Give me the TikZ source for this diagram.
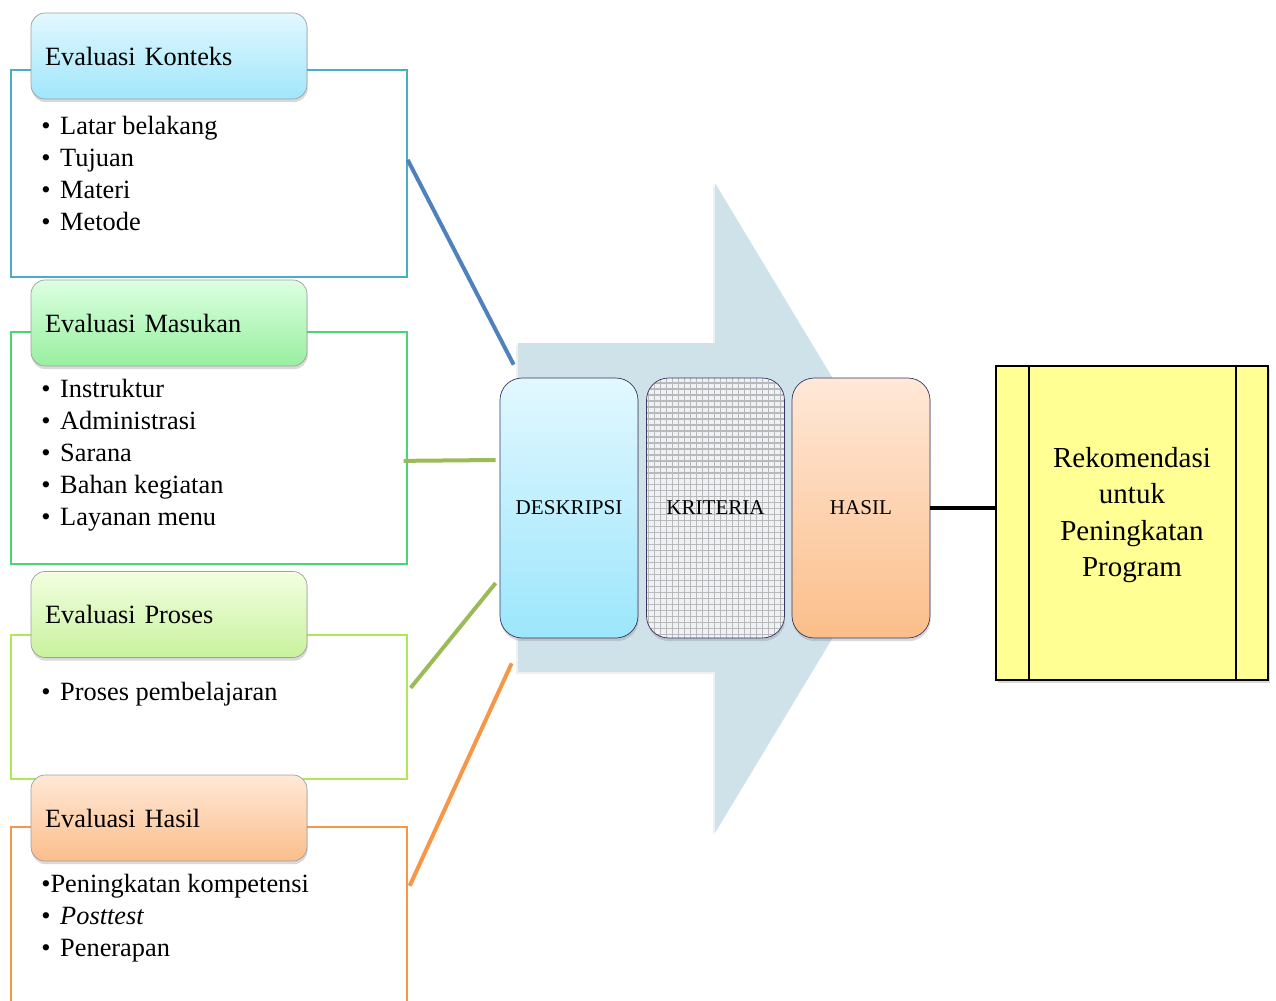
\documentclass[tikz,border=0pt]{standalone}
\usepackage{fontspec}
\setmainfont{Liberation Serif}
\usetikzlibrary{positioning, calc, shadows}
\definecolor{konteks_line}{HTML}{4BACC6}
\definecolor{masukan_line}{HTML}{4CD374}
\definecolor{proses_line}{HTML}{AEE85A}
\definecolor{hasil_line}{HTML}{F79646}
\definecolor{link_blue}{HTML}{4F81BD}
\definecolor{link_green}{HTML}{9BBB59}
\definecolor{arrow_fill}{HTML}{D0E2E9}
\definecolor{reko_fill}{HTML}{FFFF94}
\definecolor{konteks_top}{HTML}{E2F8FF}
\definecolor{konteks_bot}{HTML}{A0E6FA}
\definecolor{masukan_top}{HTML}{DCFFE0}
\definecolor{masukan_bot}{HTML}{98EFA0}
\definecolor{proses_top}{HTML}{F2FFE0}
\definecolor{proses_bot}{HTML}{C8F29E}
\definecolor{hasil_top}{HTML}{FFE8D8}
\definecolor{hasil_bot}{HTML}{FBBE8A}
\definecolor{desk_bot}{HTML}{9CE6FC}
\definecolor{krit_fill}{HTML}{EEF1F6}
\tikzset{
  evalhead/.style={rectangle,rounded corners=0.28cm,draw=gray!75,thin,minimum width=5.52cm,minimum height=1.72cm,text width=4.96cm,inner xsep=0.28cm,align=left,font=\fontsize{15}{18}\selectfont,drop shadow={opacity=0.3,shadow xshift=0.4pt,shadow yshift=-1.8pt}},
  evalframe/.style={rectangle,line width=1pt,anchor=north west,minimum width=7.92cm,inner sep=0pt},
  itemlist/.style={anchor=north west,inner sep=0pt,align=left,font=\fontsize{15}{18.2}\selectfont},
  stage/.style={rectangle,rounded corners=0.44cm,draw=gray!70!blue!60!black,thin,minimum width=2.76cm,minimum height=5.2cm,font=\fontsize{12}{14}\selectfont,drop shadow={opacity=0.3,shadow xshift=0.4pt,shadow yshift=-1.8pt}},
  gridbox/.style={path picture={\draw[gray!55,line width=0.6pt] (path picture bounding box.south west) grid[step=0.12cm] (path picture bounding box.north east);}},
  recbox/.style={rectangle,draw=black,line width=1pt,fill=reko_fill,minimum width=5.44cm,minimum height=6.28cm,align=center,font=\fontsize{16.5}{20.8}\selectfont,drop shadow={opacity=0.3,shadow xshift=1pt,shadow yshift=-1.5pt}},
  link/.style={line width=0.08cm},
}
\newcommand{\itm}{\textbullet\hspace{5.5pt}}
\begin{document}
\begin{tikzpicture}[x=0.02cm,y=-0.02cm]
	\useasboundingbox (0,0) rectangle (1276,1001);
	\fill[arrow_fill,drop shadow={opacity=0.12,shadow xshift=-1pt,shadow yshift=-1pt}] (518,343) -- (715,343) -- (715,183) -- (911,508) -- (715,833) -- (715,672) -- (518,672) -- cycle;
	\node[evalframe,draw=konteks_line,minimum height=4.14cm] (KONTEKSF) at (10,69) {};
	\node[evalframe,draw=masukan_line,minimum height=4.64cm] (MASUKANF) at (10,331) {};
	\node[evalframe,draw=proses_line,minimum height=2.88cm] (PROSESF) at (10,634) {};
	\node[evalframe,draw=hasil_line,minimum height=3.8cm] (HASILF) at (10,826) {};
	\node[evalhead,top color=konteks_top,bottom color=konteks_bot] (KONTEKS) at (169,56) {Evaluasi Konteks};
	\node[evalhead,top color=masukan_top,bottom color=masukan_bot] (MASUKAN) at (169,323) {Evaluasi Masukan};
	\node[evalhead,top color=proses_top,bottom color=proses_bot] (PROSES) at (169,614.5) {Evaluasi Proses};
	\node[evalhead,top color=hasil_top,bottom color=hasil_bot] (HASILE) at (169,818) {Evaluasi Hasil};
	\node[itemlist] (KONTEKSL) at (41,116) {\itm Latar belakang\\\itm Tujuan\\\itm Materi\\\itm Metode};
	\node[itemlist] (MASUKANL) at (41,379) {\itm Instruktur\\\itm Administrasi\\\itm Sarana\\\itm Bahan kegiatan\\\itm Layanan menu};
	\node[itemlist] (PROSESL) at (41,682) {\itm Proses pembelajaran};
	\node[itemlist] (HASILL) at (41,874) {\textbullet Peningkatan kompetensi\\\itm \textit{Posttest}\\\itm Penerapan};
	\node[stage,top color=konteks_top,bottom color=desk_bot] (DESK) at (569,508) {DESKRIPSI};
	\node[stage,fill=krit_fill,gridbox] (KRIT) at (715.5,508) {KRITERIA};
	\node[stage,top color=hasil_top,bottom color=hasil_bot] (HASIL) at (861,508) {HASIL};
	\node[recbox,text depth=0.44cm] (REKO) at (1132,523) {Rekomendasi\\untuk\\Peningkatan\\Program};
	\draw[line width=1pt] ([xshift=0.68cm]REKO.north west) -- ([xshift=0.68cm]REKO.south west);
	\draw[line width=1pt] ([xshift=-0.66cm]REKO.north east) -- ([xshift=-0.66cm]REKO.south east);
	\coordinate (KONTEKS_out) at ($(KONTEKSF.east)+(0,-13.5)$);
	\coordinate (MASUKAN_out) at ($(MASUKANF.east)+(-4,13)$);
	\coordinate (PROSES_out) at ($(PROSESF.east)+(3,-19)$);
	\coordinate (HASIL_out) at ($(HASILF.east)+(2,-36)$);
	\coordinate (DESK_in1) at ($(DESK.north west)+(14,-13)$);
	\coordinate (DESK_in2) at ($(DESK.west)+(-4,-48)$);
	\coordinate (DESK_in3) at ($(DESK.west)+(-4,75)$);
	\coordinate (DESK_in4) at ($(DESK.south west)+(12,25)$);
	\draw (KONTEKS_out) edge[link,draw=link_blue] (DESK_in1);
	\draw (MASUKAN_out) edge[link,draw=link_green] (DESK_in2);
	\draw (PROSES_out) edge[link,draw=link_green] (DESK_in3);
	\draw (HASIL_out) edge[link,draw=hasil_line] (DESK_in4);
	\draw (HASIL.east) edge[link,line width=0.09cm,draw=black] (HASIL.east -| REKO.west);
\end{tikzpicture}
\end{document}
